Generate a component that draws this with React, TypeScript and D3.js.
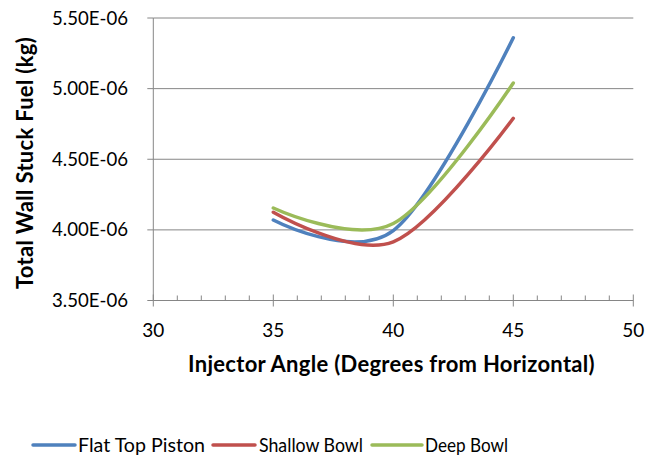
import React from "react";
import * as d3 from "d3";

const angles = [35, 40, 45];
const flatTop = [4.07, 3.995, 5.36];
const shallowBowl = [4.125, 3.915, 4.79];
const deepBowl = [4.155, 4.045, 5.04];
const seriesNames = ["Flat Top Piston", "Shallow Bowl", "Deep Bowl"];
const seriesColors = ["#4F81BD", "#C0504D", "#9BBB59"];
const xTicks = [30, 35, 40, 45, 50];
const yTicks = [3.5, 4.0, 4.5, 5.0, 5.5];

const W = 648;
const H = 460;
const FONT = "Lato, 'Noto Sans', sans-serif";

export default function App() {
  const x = d3.scaleLinear().domain([30, 50]).range([153.3, 633.3]);
  const y = d3.scaleLinear().domain([3.5, 5.5]).range([300.5, 18]);
  const line = d3
    .line<[number, number]>()
    .x((d) => x(d[0]))
    .y((d) => y(d[1]))
    .curve(d3.curveCardinal.tension(0));
  const all = [flatTop, shallowBowl, deepBowl];
  const minorTicks = d3.range(30, 51, 1).filter((v) => v % 5 !== 0);
  const axisColor = "#868686";

  const legendItems = [
    { x0: 33, x1: 75, tx: 78, tw: 127 },
    { x0: 213, x1: 255, tx: 259, tw: 104 },
    { x0: 372, x1: 422, tx: 425, tw: 83 },
  ];

  return (
    <svg
      width={W}
      height={H}
      style={{ position: "absolute", left: 0, top: 0, background: "#fff" }}
      fontFamily={FONT}
    >
      <rect x={0} y={0} width={W} height={H} fill="#fff" />
      {yTicks.slice(1).map((t) => (
        <line key={"g" + t} x1={x(30)} x2={x(50)} y1={y(t)} y2={y(t)} stroke={axisColor} strokeWidth={1} />
      ))}
      <line x1={x(30)} x2={x(30)} y1={y(5.5)} y2={y(3.5)} stroke={axisColor} strokeWidth={1} />
      {yTicks.map((t) => (
        <g key={"yt" + t}>
          <line x1={x(30) - 6} x2={x(30)} y1={y(t)} y2={y(t)} stroke={axisColor} strokeWidth={1} />
          <text x={128} y={y(t)} dy="0.35em" textAnchor="end" fontSize={18.6} fill="#000">
            {t.toFixed(2) + "E-06"}
          </text>
        </g>
      ))}
      <line x1={x(30)} x2={x(50)} y1={y(3.5)} y2={y(3.5)} stroke={axisColor} strokeWidth={1} />
      {xTicks.map((t) => (
        <g key={"xt" + t}>
          <line x1={x(t)} x2={x(t)} y1={y(3.5) - 6} y2={y(3.5) + 6} stroke={axisColor} strokeWidth={1} />
          <text x={x(t)} y={337} textAnchor="middle" fontSize={19} fill="#000">
            {t}
          </text>
        </g>
      ))}
      {minorTicks.map((t) => (
        <line key={"mt" + t} x1={x(t)} x2={x(t)} y1={y(3.5) - 5} y2={y(3.5)} stroke={axisColor} strokeWidth={1} />
      ))}
      {all.map((vals, i) => (
        <path
          key={seriesNames[i]}
          d={line(angles.map((a, j) => [a, vals[j]] as [number, number])) || ""}
          fill="none"
          stroke={seriesColors[i]}
          strokeWidth={3.5}
          strokeLinecap="round"
          strokeLinejoin="round"
        />
      ))}
      <text x={391.5} y={372} textAnchor="middle" fontSize={22} fontWeight="bold" fill="#000" letterSpacing={0.3}>
        Injector Angle (Degrees from Horizontal)
      </text>
      <text
        transform={`translate(33,163) rotate(-90)`}
        textAnchor="middle"
        fontSize={22}
        fontWeight="bold"
        fill="#000"
        letterSpacing={0.3}
      >
        Total Wall Stuck Fuel (kg)
      </text>
      {legendItems.map((it, i) => (
        <g key={"lg" + i}>
          <line x1={it.x0} x2={it.x1} y1={445} y2={445} stroke={seriesColors[i]} strokeWidth={3.5} strokeLinecap="round" />
          <text
            x={it.tx}
            y={445}
            dy="0.35em"
            fontSize={19.5}
            fill="#000"
            textLength={it.tw}
            lengthAdjust="spacingAndGlyphs"
          >
            {seriesNames[i]}
          </text>
        </g>
      ))}
    </svg>
  );
}
